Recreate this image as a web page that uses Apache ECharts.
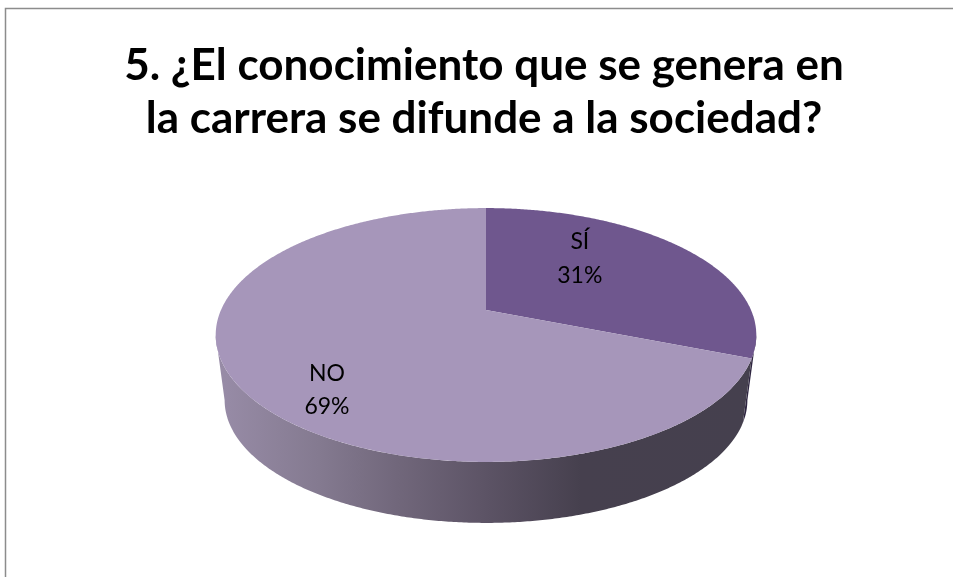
<!DOCTYPE html>
<html><head><meta charset="utf-8">
<style>html,body{margin:0;padding:0;background:#fff}#c{width:953px;height:577px}</style>
<script src="https://cdn.jsdelivr.net/npm/echarts@6/dist/echarts.min.js"></script>
</head><body><div id="c"></div>
<script>
const titleLines = ['5. ¿El conocimiento que se genera en', 'la carrera se difunde a la sociedad?'];
const categories = ['SÍ', 'NO'];
const seriesValues = [31, 69];

const topColors = ['#6F578E', '#A696BA'];
const labelShift = [[-10, -19], [-43, 44]];
const P = {cx: 486, y0: 310, rx: 265, ry: 122, k: 0.197, depthScale: 0.967, y0b: 376};
const total = seriesValues.reduce((a, b) => a + b, 0);
const edge = Math.acos(-P.k);               // angle at which the rim turns out of sight

function project(theta, r, bottom) {
  const u = Math.sin(theta) * r, v = -Math.cos(theta) * r, w = 1 - P.k * v;
  const s = bottom ? P.depthScale : 1, y0 = bottom ? P.y0b : P.y0;
  return [P.cx + s * P.rx * u / w, y0 + s * P.ry * v / w];
}
function arc(a, b, bottom) {
  const n = Math.max(2, Math.ceil(Math.abs(b - a) / 0.008)), pts = [];
  for (let i = 0; i <= n; i++) pts.push(project(a + (b - a) * i / n, 1, bottom));
  return pts;
}
const wallFills = [
  '#2E2540',
  new echarts.graphic.LinearGradient(224, 0, 750, 0, [
    {offset: 0, color: '#978BA6'}, {offset: 0.18, color: '#847A90'},
    {offset: 0.33, color: '#71677B'}, {offset: 0.5, color: '#5C5365'},
    {offset: 0.68, color: '#46404E'}, {offset: 1, color: '#45404E'}
  ], true)
];

function renderSlice(params, api) {
  const i = params.dataIndex;
  let before = 0;
  for (let j = 0; j < i; j++) before += seriesValues[j];
  const a = before / total * 2 * Math.PI;
  const b = (before + api.value(1)) / total * 2 * Math.PI;
  const children = [];
  const wa = Math.max(a, edge), wb = Math.min(b, 2 * Math.PI - edge);
  if (wb > wa) {
    children.push({type: 'polygon', z2: 1,
      shape: {points: arc(wa, wb, false).concat(arc(wa, wb, true).reverse())},
      style: {fill: wallFills[i]}});
  }
  children.push({type: 'polygon', z2: 2,
    shape: {points: [project(0, 0, false)].concat(arc(a, b, false))},
    style: {fill: topColors[i]}});
  const mid = (a + b) / 2, p = project(mid, 0.5, false);
  children.push({type: 'text', z2: 3,
    x: p[0] + labelShift[i][0], y: p[1] + labelShift[i][1],
    style: {text: categories[i] + '\n' + Math.round(api.value(1) / total * 100) + '%',
      fill: '#000', font: '23px Lato', lineHeight: 33.5, align: 'center', verticalAlign: 'middle'}});
  return {type: 'group', children};
}

const chart = echarts.init(document.getElementById('c'), null, {renderer: 'canvas'});
chart.setOption({
  animation: false,
  backgroundColor: '#fff',
  title: {text: titleLines.join('\n'), left: 479, top: 34, textAlign: 'center',
    textStyle: {fontFamily: 'Lato', fontWeight: 'bold', fontSize: 44, lineHeight: 53, color: '#000'}},
  graphic: [
    {type: 'polyline', silent: true, shape: {points: [[5.5, 577], [5.5, 8.5], [953, 8.5]]},
     style: {fill: null, stroke: '#8C8C8C', lineWidth: 1.5}}
  ],
  series: [{type: 'custom', coordinateSystem: 'none', renderItem: renderSlice,
    data: categories.map((c, i) => ({name: c, value: [i, seriesValues[i]]}))}]
});
</script></body></html>
